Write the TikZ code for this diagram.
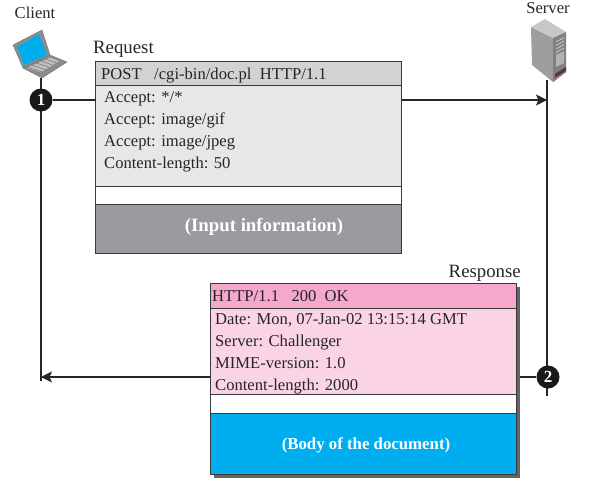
\documentclass[tikz,border=0pt]{standalone}
\usepackage{fontspec}
\setmainfont{Liberation Serif}
\usetikzlibrary{positioning}
\usetikzlibrary{arrows.meta}
\definecolor{reqhead}{HTML}{D1D2D4}
\definecolor{reqbody}{HTML}{E6E7E8}
\definecolor{reqdark}{HTML}{9A9B9F}
\definecolor{resphead}{HTML}{F5A8CB}
\definecolor{respbody}{HTML}{FAD4E6}
\definecolor{respblue}{HTML}{00AEEF}
\definecolor{inkline}{HTML}{3A3A3C}
\definecolor{shadegray}{HTML}{636466}
\tikzset{
  row/.style={draw=inkline, line width=1pt, minimum width=306pt, inner sep=0pt, outer sep=0pt},
  body/.style={font=\fontsize{16.6}{22}\selectfont, text=black!85, inner sep=0pt},
  title/.style={font=\fontsize{18.8}{22}\selectfont, text=black!85, inner sep=0pt},
  lines/.style={body, align=left, anchor=north west},
  banner/.style={text=white, inner sep=0pt},
  badge/.style={circle, fill=black!90, text=white, font=\fontsize{17}{17}\selectfont\bfseries, minimum size=23pt, inner sep=0pt},
  link/.style={line width=1.5pt, draw=black!85},
  flow/.style={link, -{Stealth[length=11pt, width=11pt, inset=2.5pt]}},
}
\begin{document}
\begin{tikzpicture}[x=1pt, y=-1pt]
\useasboundingbox (0,0) rectangle (593,482);
% request
\node[row, anchor=north west, fill=reqhead, minimum height=24pt] (reqtop) at (95.5,61) {};
\node[row, below=0pt of reqtop, fill=reqbody, minimum height=101pt] (reqmid) {};
\node[row, below=0pt of reqmid, fill=white, minimum height=18pt] (reqgap) {};
\node[row, below=0pt of reqgap, fill=reqdark, minimum height=49pt] (reqdata) {};
% response
\node[anchor=north west, fill=shadegray, minimum width=306pt, minimum height=191pt, inner sep=0pt, outer sep=0pt] (respshade) at (214,287) {};
\node[row, anchor=north west, fill=resphead, minimum height=25pt] (resptop) at (210,283) {};
\node[row, below=0pt of resptop, fill=respbody, minimum height=86pt] (respmid) {};
\node[row, below=0pt of respmid, fill=white, minimum height=19pt] (respgap) {};
\node[row, below=0pt of respgap, fill=respblue, minimum height=61pt] (respdata) {};
% texts
\node[body] (client) at (35,13) {Client};
\node[body] (server) at (548,8) {Server};
\node[title, anchor=west] (request) at (93,49) {Request};
\node[title, anchor=east] (response) at (521,273) {Response};
\node[body, anchor=west] (reqline) at (101,76) {POST\ \ \ /cgi-bin/doc.pl\ \ HTTP/1.1};
\node[lines] (reqtext) at (104,91) {Accept: */*\\Accept: image/gif\\Accept: image/jpeg\\Content-length: 50};
\node[banner, font=\fontsize{18.8}{20}\selectfont\bfseries] (reqnote) at (264,227) {(Input information)};
\node[body, anchor=west] (respline) at (212,296) {HTTP/1.1\ \ \ 200\ \ OK};
\node[lines] (resptext) at (215,313) {Date: Mon, 07-Jan-02 13:15:14 GMT\\Server: Challenger\\MIME-version: 1.0\\Content-length: 2000};
\node[banner, font=\fontsize{16.8}{20}\selectfont\bfseries] (respnote) at (366,445) {(Body of the document)};
% laptop
\draw[fill=black!45, draw=black!55, line width=.4pt] (23,68) -- (50,55) -- (67,62) -- (42,78) -- cycle;
\draw[fill=black!25, draw=black!55, line width=.4pt] (25,68) -- (50,57) -- (60,61) -- (41,73) -- cycle;
\foreach \k in {0,...,4}
  \draw[black!55, line width=.5pt] (27+\k*4.5,67-\k*2.1) -- (42+\k*3.5,72-\k*2.3);
\draw[fill=black!45, draw=black!55, line width=.4pt] (13,45) -- (42,30) -- (50,55) -- (23,68) -- cycle;
\fill[respblue] (17,47) -- (39,34) -- (47,55) -- (24,65) -- cycle;
% server
\fill[black!38] (531,27) -- (553,38) -- (553,82) -- (532,65) -- cycle;
\fill[black!22] (545,19) -- (566,32) -- (553,38) -- (531,27) -- cycle;
\fill[black!50] (553,38) -- (566,32) -- (566,72) -- (553,82) -- cycle;
\foreach \k in {0,...,3}
  \draw[black!20, line width=.8pt] (556,42+\k*3.5) -- (564,37.5+\k*3.5);
\fill[black!30] (556,55) -- (564,51) -- (564,63) -- (556,67) -- cycle;
\fill[black!75] (555,74) -- (566,67) -- (566,71) -- (555,78) -- cycle;
\fill[reqdark!70!red] (555,78) -- (566,71) -- (566,72) -- (553,82) -- cycle;
% links
\coordinate (clientend) at (41,381);
\coordinate (serverend) at (547,396);
\coordinate (laptopfoot) at (41,78);
\coordinate (serverfoot) at (547,80);
\draw[link] (laptopfoot) -- (clientend);
\draw[link] (serverfoot) -- (serverend);
\node[badge] (one) at (41,100) {1};
\node[badge] (two) at (548,377) {2};
\draw[link] (one) -- (reqmid.west |- one);
\draw[flow] (reqmid.east |- one) -- (serverfoot |- one);
\draw[link] (two) -- (respshade.east |- two);
\draw[flow] (respmid.west |- two) -- (clientend |- two);
\end{tikzpicture}
\end{document}
